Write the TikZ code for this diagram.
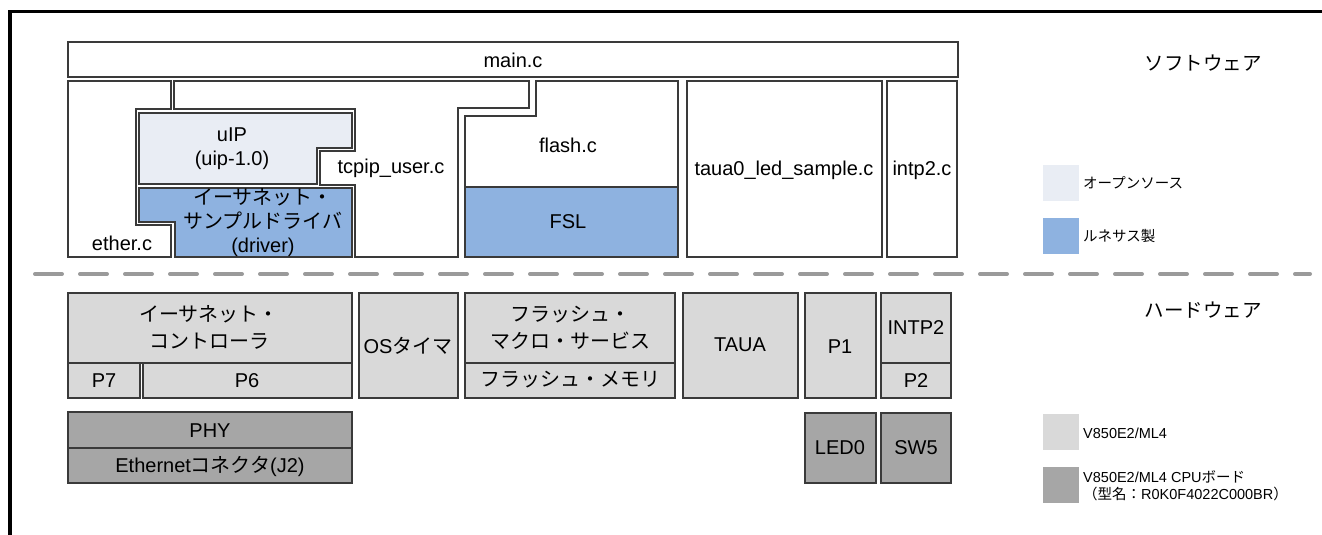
\documentclass[tikz,border=0pt]{standalone}
\usepackage{fontspec}
\setmainfont{Liberation Sans}
\newfontfamily\jp{Noto Sans CJK JP}
\definecolor{edge}{HTML}{3A3A3A}
\definecolor{openfill}{HTML}{E9EDF4}
\definecolor{renfill}{HTML}{8EB2E0}
\definecolor{mcufill}{HTML}{D9D9D9}
\definecolor{boardfill}{HTML}{A6A6A6}
\definecolor{divider}{HTML}{9A9A9A}
\begin{document}
\begin{tikzpicture}[x=1pt,y=-1pt,
  outl/.style={draw=edge, line width=1.3pt, line join=miter},
  txt/.style={font=\fontsize{20}{24}\selectfont, align=center, inner sep=0pt},
  txth/.style={font=\fontsize{20}{27}\selectfont, align=center, inner sep=0pt},
  sect/.style={font=\fontsize{19.5}{24}\selectfont\jp, inner sep=0pt},
  leg/.style={font=\fontsize{14.5}{17}\selectfont, anchor=west, align=left, inner sep=0pt}]
\useasboundingbox (0,0) rectangle (1322,535);

% outer frame (left and top edges)
\draw[line width=3.5pt, line join=miter] (10,535) -- (10,11.5) -- (1322,11.5);

% ---------------- software layer ----------------
\draw[outl, fill=white] (68,42) rectangle (958,77);
\node[txt] (main) at (513,60) {main.c};

% ether.c
\draw[outl, fill=white] (68,81) -- (171,81) -- (171,109) -- (136,109) -- (136,225)
  -- (171,225) -- (171,257) -- (68,257) -- cycle;
\node[txt] (ether) at (122,243) {ether.c};

% tcpip_user.c
\draw[outl, fill=white] (174,81) -- (529,81) -- (529,108) -- (458,108) -- (458,257)
  -- (355,257) -- (355,185) -- (320,185) -- (320,151) -- (355,151) -- (355,109)
  -- (174,109) -- cycle;
\node[txt] (tcpip) at (391,168) {tcpip\_user.c};

% uIP
\draw[outl, fill=openfill] (139,113) -- (352,113) -- (352,148) -- (317,148)
  -- (317,184) -- (139,184) -- cycle;
\node[txt] (uip) at (232,148.5) {uIP\\(uip-1.0)};

% Ethernet sample driver
\draw[outl, fill=renfill] (139,188) -- (352,188) -- (352,257) -- (175,257)
  -- (175,222) -- (139,222) -- cycle;
\node[txt] (drv) at (263,223) {{\jp イーサネット・}\\{\jp サンプルドライバ}\\(driver)};

% flash.c and FSL
\draw[outl, fill=white] (465,116) -- (536,116) -- (536,81) -- (678,81) -- (678,257)
  -- (465,257) -- cycle;
\draw[outl, fill=renfill] (465,187) rectangle (678,257);
\node[txt] (flash) at (568,145) {flash.c};
\node[txt] (fsl) at (568,222) {FSL};

% taua0_led_sample.c, intp2.c
\draw[outl, fill=white] (687,81) rectangle (882,257);
\node[txt] (taua0) at (784,170) {taua0\_led\_sample.c};
\draw[outl, fill=white] (887,81) rectangle (957,257);
\node[txt] (intp2) at (922,170) {intp2.c};

% ---------------- layer separator ----------------
\draw[divider, line width=4pt, line cap=round, dash pattern=on 27pt off 18pt]
  (35,274) -- (1310,274);

% ---------------- hardware layer ----------------
\draw[outl, fill=mcufill] (68,293) rectangle (352,363);
\node[txth] (ethc) at (209,327) {{\jp イーサネット・}\\{\jp コントローラ}};
\draw[outl, fill=mcufill] (68,363) rectangle (140,398);
\node[txt] (p7) at (104,381) {P7};
\draw[outl, fill=mcufill] (143,363) rectangle (352,398);
\node[txt] (p6) at (247,381) {P6};

\draw[outl, fill=mcufill] (359,293) rectangle (458,398);
\node[txt] (ost) at (408,346) {OS{\jp タイマ}};

\draw[outl, fill=mcufill] (465,293) rectangle (675,363);
\node[txth] (fms) at (570,328) {{\jp フラッシュ・}\\{\jp マクロ・サービス}};
\draw[outl, fill=mcufill] (465,363) rectangle (675,398);
\node[txt] (fmem) at (570,380) {\jp フラッシュ・メモリ};

\draw[outl, fill=mcufill] (683,293) rectangle (798,398);
\node[txt] (taua) at (740,345) {TAUA};

\draw[outl, fill=mcufill] (805,293) rectangle (876,398);
\node[txt] (p1) at (840,347) {P1};

\draw[outl, fill=mcufill] (881,293) rectangle (951,363);
\node[txt] (intp) at (916,328) {INTP2};
\draw[outl, fill=mcufill] (881,363) rectangle (951,398);
\node[txt] (p2) at (916,381) {P2};

% CPU board parts
\draw[outl, fill=boardfill] (68,412) rectangle (352,448);
\node[txt] (phy) at (210,431) {PHY};
\draw[outl, fill=boardfill] (68,448) rectangle (352,483);
\node[txt] (conn) at (210,466) {Ethernet{\jp コネクタ}(J2)};

\draw[outl, fill=boardfill] (805,413) rectangle (876,483);
\node[txt] (led) at (840,448) {LED0};
\draw[outl, fill=boardfill] (881,413) rectangle (951,483);
\node[txt] (sw) at (916,448) {SW5};

% ---------------- labels and legend ----------------
\node[sect] (swlabel) at (1203,63) {ソフトウェア};
\node[sect] (hwlabel) at (1203,310) {ハードウェア};

\fill[openfill] (1043,165) rectangle (1079,201);
\node[leg] (lg1) at (1083,183) {\jp オープンソース};
\fill[renfill] (1043,218) rectangle (1079,254);
\node[leg] (lg2) at (1083,236) {\jp ルネサス製};
\fill[mcufill] (1043,414) rectangle (1079,450);
\node[leg] (lg3) at (1083,433) {V850E2/ML4};
\fill[boardfill] (1043,467) rectangle (1079,503);
\node[leg] (lg4) at (1083,485.5) {V850E2/ML4 CPU{\jp ボード}\\{\jp （型名：}R0K0F4022C000BR{\jp ）}};
\end{tikzpicture}
\end{document}
